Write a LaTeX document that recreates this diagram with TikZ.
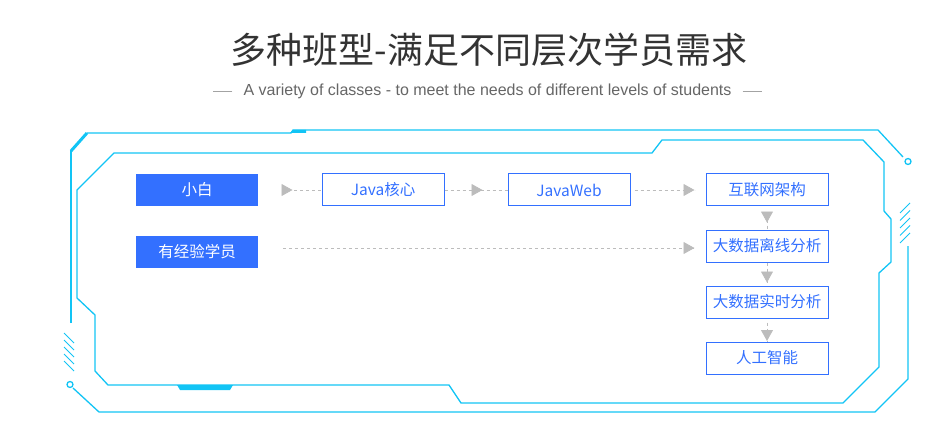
\documentclass[tikz,border=0pt]{standalone}
\usepackage{fontspec}
\setmainfont{Liberation Sans}
\newfontfamily\cjk{Noto Sans CJK SC}
\usetikzlibrary{arrows.meta,decorations.markings}
\definecolor{rimcyan}{RGB}{18,196,245}
\definecolor{boxblue}{RGB}{51,112,255}
\definecolor{arrowgray}{RGB}{188,188,188}
\definecolor{titlegray}{RGB}{51,51,51}
\definecolor{subgray}{RGB}{102,102,102}

\begin{document}
\begin{tikzpicture}[x=1pt, y=-1pt,
    level/.style={minimum width=122pt, minimum height=32pt, inner sep=0pt,
      font=\cjk\fontsize{15.5}{18}\selectfont},
    filled/.style={level, fill=boxblue, text=white},
    course/.style={level, draw=boxblue, line width=1pt, text=boxblue},
    flow/.style={arrowgray, dash pattern=on 3pt off 3pt, line width=0.8pt,
      postaction={decorate}, decoration={markings,
        mark=at position #1 with {\arrow{Triangle[length=11pt,width=12pt]}}}},
    rim/.style={rimcyan, line width=1.3pt}]
    \useasboundingbox (0,0) rectangle (943,433);

    \def\hx{64}
    \def\hy{333}

    \node[font=\cjk\fontsize{36}{40}\selectfont, text=titlegray] (title) at (489,50) {多种班型-满足不同层次学员需求};
    \node[font=\fontsize{16}{18}\selectfont, text=subgray, inner sep=0pt] (subtitle) at (487.5,91)
      {A variety of classes - to meet the needs of different levels of students};
    \draw[subgray!60, line width=0.8pt] (subtitle.west) ++(-11,0) -- ++(-19,0);
    \draw[subgray!60, line width=0.8pt] (subtitle.east) ++(11,0) -- ++(19,0);

    \draw[rim] (114,153) -- (652,153) -- (662,140) -- (863,140) -- (884,162) -- (884,211)
      -- (891,219) -- (891,262) -- (879,273) -- (879,367) -- (843,403) -- (461,403)
      -- (449,385) -- (108,385) -- (95,371) -- (95,315) -- (77,298) -- (77,190) -- cycle;
    \fill[rimcyan] (177,385) -- (233,385) -- (230,390) -- (180,390) -- cycle;

    \draw[rim] (71,323) -- (71,150);
    \draw[rimcyan, line width=3pt] (71,151) -- (87,133);
    \draw[rim] (87,133) -- (291,133) -- (293,130) -- (878,130) -- (903,157);
    \fill[rimcyan] (290,133) -- (293,130) -- (306,130) -- (306,133) -- cycle;
    \draw[rim] (908,161.5) circle (3pt);
    \draw[rim] (908,246) -- (908,379) -- (875,412) -- (99,412) -- (73,388);
    \draw[rim] (70,384.5) circle (3pt);
    \foreach \k in {0,...,4} {
      \draw[rimcyan, line width=1pt] (\hx,\hy+7*\k) -- ++(10,10);
      \draw[rimcyan, line width=1pt] (900,213+7.5*\k) -- ++(10,-10);
    }

    \node[filled] (novice) at (197,190) {小白};
    \node[filled] (veteran) at (197,252) {有经验学员};
    \node[course] (core) at (383,190) {Java核心};
    \node[course] (web) at (569,190) {JavaWeb};
    \node[course] (arch) at (767,190) {互联网架构};
    \node[course] (offline) at (767,246) {大数据离线分析};
    \node[course] (realtime) at (767,302) {大数据实时分析};
    \node[course] (ai) at (767,358) {人工智能};

    \draw[flow=-29pt, shorten <=24pt] (novice) -- (core);
    \draw[flow=-25pt] (core) -- (web);
    \draw[flow=-11pt, shorten <=4pt, shorten >=11pt] (web) -- (arch);
    \draw[flow=-11pt, shorten <=25pt, shorten >=11pt] ([yshift=4pt]veteran.east) -- ([yshift=-2pt]offline.west);
    \draw[flow=-7pt, shorten <=7pt] (arch) -- (offline);
    \draw[flow=-3pt, shorten >=3pt] (offline) -- (realtime);
    \draw[flow=-0.5pt, shorten <=4pt] (realtime) -- (ai);
  \end{tikzpicture}
\end{document}
